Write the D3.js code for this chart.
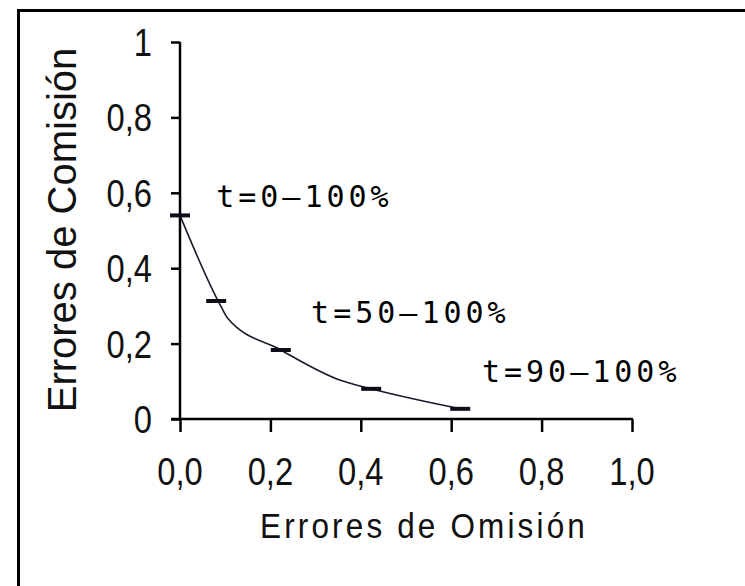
<!DOCTYPE html>
<html>
<head>
<meta charset="utf-8">
<script src="https://cdn.jsdelivr.net/npm/d3@7/dist/d3.min.js"></script>
<style>
  html, body { margin: 0; padding: 0; background: #fff; }
  svg { display: block; }
</style>
</head>
<body>
<svg id="chart" width="745" height="586"></svg>
<script>
// ---- data ----
const markerX = [0, 0.08, 0.223, 0.423, 0.62];
const markerY = [0.54, 0.313, 0.183, 0.08, 0.027];
const lineX = [0, 0.09, 0.105, 0.223, 0.35, 0.423, 0.62];
const lineY = [0.54, 0.30, 0.268, 0.183, 0.105, 0.08, 0.027];
const labelText = ["t=0–100%", "t=50–100%", "t=90–100%"];
const labelX = [0.08, 0.29, 0.668];
const labelY = [0.562, 0.255, 0.098];
const xTicks = [0, 0.2, 0.4, 0.6, 0.8, 1.0];
const xTickLabels = ["0,0", "0,2", "0,4", "0,6", "0,8", "1,0"];
const yTicks = [0, 0.2, 0.4, 0.6, 0.8, 1];
const yTickLabels = ["0", "0,2", "0,4", "0,6", "0,8", "1"];
const xTitle = "Errores de Omisión";
const yTitle = "Errores de Comisión";

// ---- drawing ----
const svg = d3.select("#chart");
const x = d3.scaleLinear().domain([0, 1]).range([180, 632]);
const y = d3.scaleLinear().domain([0, 1]).range([419, 42]);

// frame
svg.append("path")
  .attr("d", "M18.5,586 L18.5,10.5 L745,10.5")
  .attr("fill", "none").attr("stroke", "#000").attr("stroke-width", 3);

// axes
const yAxis = d3.axisLeft(y).tickValues(yTicks).tickSize(9).tickFormat("");
const xAxis = d3.axisBottom(x).tickValues(xTicks).tickSize(13).tickFormat("");
const gy = svg.append("g").attr("transform", `translate(${x(0)},0)`).call(yAxis);
const gx = svg.append("g").attr("transform", `translate(0,${y(0)})`).call(xAxis);
[gx, gy].forEach(g => {
  g.select(".domain").remove();
  g.selectAll(".tick line").attr("stroke", "#000").attr("stroke-width", 2.5);
});
// axis lines
svg.append("line").attr("x1", x(0)).attr("x2", x(0)).attr("y1", y(1)).attr("y2", y(0) + 1)
  .attr("stroke", "#000").attr("stroke-width", 2.5);
svg.append("line").attr("x1", x(0) - 9).attr("x2", x(1) + 1).attr("y1", y(0)).attr("y2", y(0))
  .attr("stroke", "#000").attr("stroke-width", 2.5);

// tick labels
const tickFont = "'Liberation Sans', Arial, sans-serif";
svg.append("g").selectAll("text").data(yTicks).join("text")
  .attr("transform", d => `translate(152,${y(d) + 14}) scale(0.84,1)`)
  .attr("text-anchor", "end")
  .attr("font-family", tickFont).attr("font-size", 39).attr("fill", "#111")
  .text((d, i) => yTickLabels[i]);
svg.append("g").selectAll("text").data(xTicks).join("text")
  .attr("transform", d => `translate(${x(d)},485) scale(0.84,1)`)
  .attr("text-anchor", "middle")
  .attr("font-family", tickFont).attr("font-size", 39).attr("fill", "#111")
  .text((d, i) => xTickLabels[i]);

// titles
svg.append("text")
  .attr("transform", "translate(424,538) scale(0.9,1)")
  .attr("text-anchor", "middle")
  .attr("font-family", tickFont).attr("font-size", 35)
  .attr("letter-spacing", 3.5).attr("fill", "#111")
  .text(xTitle);
svg.append("text")
  .attr("transform", "translate(76,230) rotate(-90)")
  .attr("text-anchor", "middle")
  .attr("font-family", tickFont).attr("font-size", 40)
  .attr("fill", "#111")
  .text(yTitle);

// curve
const pts = lineX.map((d, i) => [d, lineY[i]]);
svg.append("path")
  .datum(pts)
  .attr("d", d3.line().x(d => x(d[0])).y(d => y(d[1])).curve(d3.curveMonotoneX))
  .attr("fill", "none").attr("stroke", "#1a1a2a").attr("stroke-width", 1.6);

// dash markers
svg.append("g").selectAll("line").data(markerX).join("line")
  .attr("x1", d => x(d) - 10).attr("x2", d => x(d) + 10)
  .attr("y1", (d, i) => y(markerY[i])).attr("y2", (d, i) => y(markerY[i]))
  .attr("stroke", "#0d0d1a").attr("stroke-width", 4);

// annotations
svg.append("g").selectAll("text").data(labelText).join("text")
  .attr("x", (d, i) => x(labelX[i])).attr("y", (d, i) => y(labelY[i]))
  .attr("font-family", "'DejaVu Sans Mono', monospace").attr("font-size", 30)
  .attr("letter-spacing", 4).attr("fill", "#000")
  .text(d => d);
</script>
</body>
</html>
